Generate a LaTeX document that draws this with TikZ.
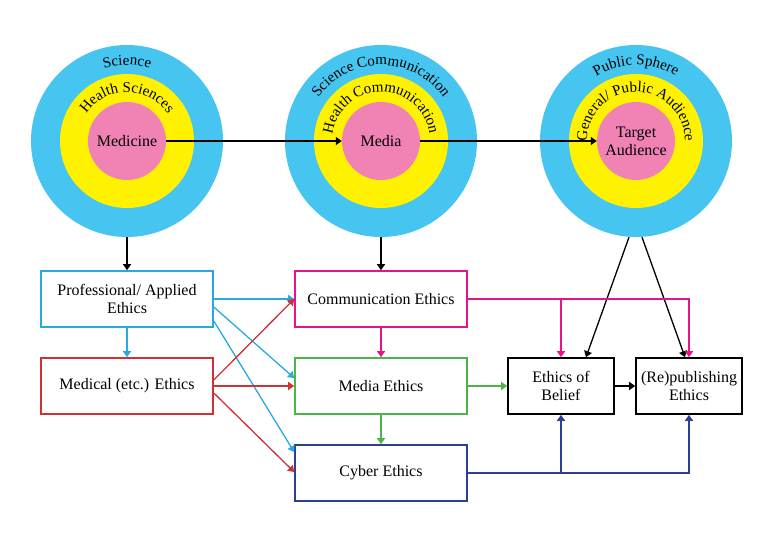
\documentclass[tikz,border=0pt]{standalone}
\usepackage{fontspec}
\setmainfont{Liberation Serif}
\usetikzlibrary{arrows.meta,decorations.text}
\definecolor{ringblue}{RGB}{70,197,240}
\definecolor{ringyellow}{RGB}{255,242,0}
\definecolor{ringpink}{RGB}{240,130,180}
\definecolor{lblue}{RGB}{39,170,225}
\definecolor{lred}{RGB}{205,50,55}
\definecolor{lpink}{RGB}{230,20,140}
\definecolor{lgreen}{RGB}{77,180,72}
\definecolor{lnavy}{RGB}{43,64,144}
\begin{document}
\begin{tikzpicture}[x=1pt,y=1pt,font=\fontsize{16}{18}\selectfont,
  ring/.style={circle,inner sep=0pt,minimum size=#1},
  box/.style={draw,line width=1.6pt,minimum width=172pt,minimum height=56pt,align=center,inner sep=2pt},
  sbox/.style={box,minimum width=106pt},
  arr/.style={line width=1.3pt,-{Triangle[width=8pt,length=6pt]}},
  ringtext/.style={decorate,decoration={text along path,text align=center,
    text={|\fontsize{15}{17}\selectfont|#1}}}]
  \useasboundingbox (0,0) rectangle (773,539);
  \node[ring=192pt,fill=ringblue] (sci) at (127,398) {};
  \node[ring=192pt,fill=ringblue] (scom) at (381,398) {};
  \node[ring=192pt,fill=ringblue] (pub) at (636,398) {};
  \node[ring=134pt,fill=ringyellow] (hsci) at (127,398) {};
  \node[ring=134pt,fill=ringyellow] (hcom) at (381,398) {};
  \node[ring=134pt,fill=ringyellow] (gen) at (636,398) {};
  \node[ring=78pt,fill=ringpink] (medicine) at (127,398) {Medicine};
  \node[ring=78pt,fill=ringpink] (media) at (381,398) {Media};
  \node[ring=78pt,fill=ringpink,align=center] (target) at (636,398) {Target\\Audience};
  \path[ringtext=Science] (51,398) arc[start angle=180,end angle=0,radius=76];
  \path[ringtext=Science Communication] (305,398) arc[start angle=180,end angle=0,radius=76];
  \path[ringtext=Public Sphere] (560,398) arc[start angle=180,end angle=0,radius=76];
  \path[ringtext=Health Sciences] (78,398) arc[start angle=180,end angle=0,radius=49];
  \path[ringtext=Health Communication] (332,398) arc[start angle=180,end angle=0,radius=49];
  \path[ringtext=General/ Public Audience] (587,398) arc[start angle=180,end angle=0,radius=49];
  \draw[arr] (medicine) -- (media);
  \draw[arr] (media) -- (target);

  \node[box,lblue,text=black] (prof) at (127,240) {Professional/ Applied\\Ethics};
  \node[box,lred,text=black] (medical) at (127,153) {Medical (etc.) Ethics};
  \node[box,lpink,text=black] (comm) at (381,240) {Communication Ethics};
  \node[box,lgreen,text=black] (mediaeth) at (381,153) {Media Ethics};
  \node[box,lnavy,text=black] (cyber) at (381,66) {Cyber Ethics};
  \node[sbox] (belief) at (561,153) {Ethics of\\Belief};
  \node[sbox] (repub) at (689,153) {(Re)publishing\\Ethics};

  \draw[arr] (sci) -- (prof);
  \draw[arr] (scom) -- (comm);
  \draw[arr] ([xshift=-7pt]pub.south) -- ([xshift=25pt]belief.north);
  \draw[arr] ([xshift=6pt]pub.south) -- ([xshift=-4pt]repub.north);
  \draw[arr,lblue] (prof) -- (medical);
  \draw[arr,lblue] (prof.east) -- (comm.west);
  \draw[arr,lblue] ([yshift=-8pt]prof.east) -- ([yshift=8pt]mediaeth.west);
  \draw[arr,lblue] ([yshift=-22pt]prof.east) -- ([yshift=21pt]cyber.west);
  \draw[arr,lred] ([yshift=6pt]medical.east) -- (comm.west);
  \draw[arr,lred] (medical) -- (mediaeth);
  \draw[arr,lred] ([yshift=-7pt]medical.east) -- ([yshift=1pt]cyber.west);
  \draw[arr,lpink] (comm) -- (mediaeth);
  \draw[arr,lgreen] (mediaeth) -- (cyber);
  \draw[arr,lgreen] (mediaeth) -- (belief);
  \draw[arr] (belief) -- (repub);
  \draw[arr,lpink] (comm.east) -| (repub.north);
  \draw[arr,lpink] (comm.east -| belief.north) -- (belief.north);
  \draw[arr,lnavy] (cyber.east) -| (repub.south);
  \draw[arr,lnavy] (cyber.east -| belief.south) -- (belief.south);
\end{tikzpicture}
\end{document}
